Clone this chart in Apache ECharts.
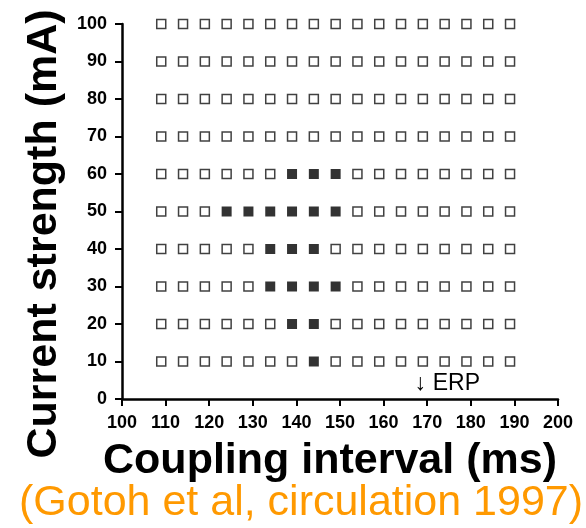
<!DOCTYPE html>
<html>
<head>
<meta charset="utf-8">
<script src="https://cdn.jsdelivr.net/npm/echarts@6/dist/echarts.min.js"></script>
<style>
html,body{margin:0;padding:0;background:#fff;}
#chart{width:586px;height:528px;}
</style>
</head>
<body>
<div id="chart"></div>
<script>
// Coupling intervals (ms) of the tested columns
const couplingIntervals = [109,114,119,124,129,134,139,144,149,154,159,164,169,174,179,184,189];
// Current strengths (mA) of the tested rows
const currentStrengths = [10,20,30,40,50,60,70,80,90,100];
// Filled (induced) cells: [coupling interval, current strength]
const inducedCells = [
  [139,60],[144,60],[149,60],
  [124,50],[129,50],[134,50],[139,50],[144,50],[149,50],
  [134,40],[139,40],[144,40],
  [134,30],[139,30],[144,30],[149,30],
  [139,20],[144,20],
  [144,10]
];
const erpValue = 169;
const xAxisName = 'Coupling interval (ms)';
const yAxisName = 'Current strength (mA)';
const citation = '(Gotoh et al, circulation 1997)';

const inducedKey = new Set(inducedCells.map(c => c[0] + '_' + c[1]));
const notInducedCells = [];
currentStrengths.forEach(y => couplingIntervals.forEach(x => {
  if (!inducedKey.has(x + '_' + y)) notInducedCells.push([x, y]);
}));

const FONT = '"Liberation Sans", Arial, Helvetica, sans-serif';
const chart = echarts.init(document.getElementById('chart'));
chart.setOption({
  backgroundColor: '#fff',
  animation: false,
  grid: {left: 122, right: 28, top: 24, bottom: 129},
  xAxis: {
    type: 'value', min: 100, max: 200, interval: 10,
    name: xAxisName, nameLocation: 'middle', nameGap: 41,
    nameTextStyle: {fontFamily: FONT, fontSize: 43, fontWeight: 'bold', color: '#000', padding: [0, 20, 0, 0]},
    axisLine: {show: true, lineStyle: {color: '#000', width: 2.5}},
    axisTick: {show: true, length: 7, lineStyle: {color: '#000', width: 2}},
    axisLabel: {fontFamily: FONT, fontSize: 18, fontWeight: 'bold', color: '#000', margin: 15},
    splitLine: {show: false}
  },
  yAxis: {
    type: 'value', min: 0, max: 100, interval: 10,
    name: yAxisName, nameLocation: 'middle', nameGap: 56,
    nameTextStyle: {fontFamily: FONT, fontSize: 43, fontWeight: 'bold', color: '#000', padding: [0, 45, 0, 0]},
    axisLine: {show: true, lineStyle: {color: '#000', width: 2.5}},
    axisTick: {show: true, length: 7, lineStyle: {color: '#000', width: 2}},
    axisLabel: {fontFamily: FONT, fontSize: 18, fontWeight: 'bold', color: '#000', margin: 15},
    splitLine: {show: false}
  },
  series: [
    {
      name: 'Not induced', type: 'scatter', symbol: 'rect', symbolSize: 9,
      itemStyle: {color: '#fff', borderColor: '#111', borderWidth: 1.5},
      data: notInducedCells,
      markPoint: {
        symbol: 'circle', symbolSize: 0,
        data: [{coord: [erpValue, 0], value: 'ERP'}],
        label: {show: true, formatter: '↓ ERP', position: 'top', distance: 4, align: 'left', offset: [-8, 0],
                fontFamily: FONT, fontSize: 23, color: '#000'},
        itemStyle: {color: 'transparent'}
      }
    },
    {
      name: 'Induced', type: 'scatter', symbol: 'rect', symbolSize: 10,
      itemStyle: {color: '#000'},
      data: inducedCells
    }
  ],
  graphic: [{
    type: 'text', left: 19, top: 482,
    style: {text: citation, fontFamily: FONT, fontSize: 43, fill: '#FF9900'}
  }]
});
</script>
</body>
</html>
